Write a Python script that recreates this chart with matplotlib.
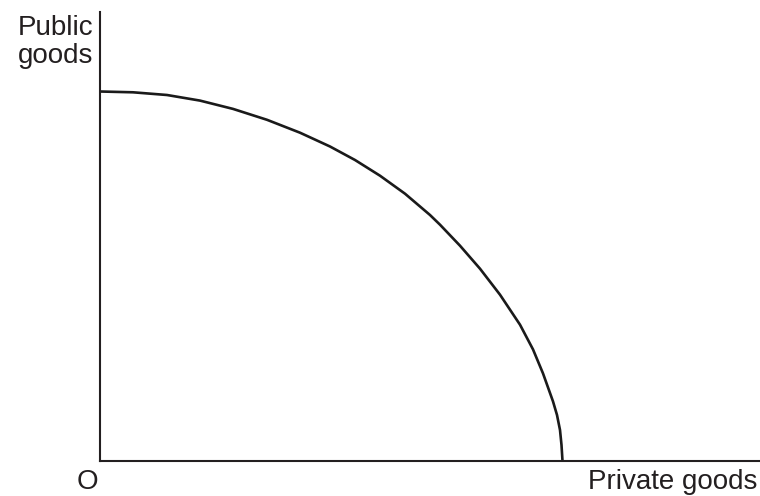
import matplotlib
matplotlib.use("Agg")
import matplotlib.pyplot as plt

# production possibility frontier
# x = private goods, y = public goods (same units, origin at O)
private_goods = [0, 33, 67, 100, 133, 167, 200, 230, 255, 280, 305, 330, 340, 360,
                 380, 400, 420, 433, 443, 453, 457, 460, 461.5, 462.5]
public_goods = [369.5, 368.7, 366.0, 360.4, 352.1, 341.2, 328.3, 314.5, 301.0, 285.3,
                267.3, 246.0, 236.3, 215.3, 192.3, 166.3, 136.3, 111.6, 87.6, 59.6,
                46, 31, 16, 0]

x_label = "Private goods"
y_label = "Public goods"
origin_label = "O"

axis_color = "#231f20"

plt.rcParams["font.family"] = ["Liberation Sans", "DejaVu Sans"]

fig = plt.figure(figsize=(7.6, 4.96), dpi=100)
ax = fig.add_axes([100 / 760, 35 / 496, 660 / 760, 449 / 496])
ax.set_xlim(0, 660)
ax.set_ylim(0, 449)

ax.plot(private_goods, public_goods, color="#1a1a1a", linewidth=1.9,
        solid_joinstyle="round", solid_capstyle="butt", clip_on=False)

for side in ("top", "right"):
    ax.spines[side].set_visible(False)
for side in ("left", "bottom"):
    ax.spines[side].set_color(axis_color)
    ax.spines[side].set_linewidth(1.5)
ax.set_xticks([])
ax.set_yticks([])

ax.text(-7, 446, y_label.replace(" ", "\n"), ha="right", va="top",
        fontsize=20, color=axis_color, linespacing=1.1, clip_on=False)
ax.text(-12.5, -28, origin_label, ha="center", va="baseline",
        fontsize=20, color=axis_color, clip_on=False)
ax.text(657, -28, x_label, ha="right", va="baseline",
        fontsize=20, color=axis_color, clip_on=False)

fig.savefig("out.png", dpi=100, facecolor="white")
